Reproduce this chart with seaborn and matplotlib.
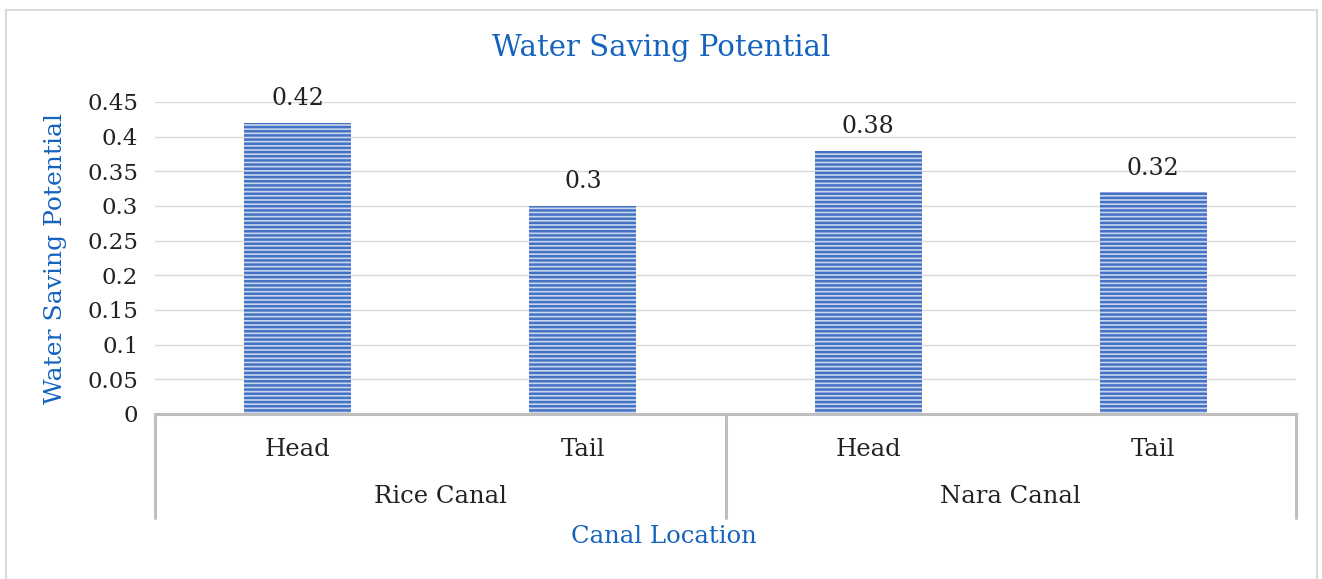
import numpy as np
import pandas as pd
import seaborn as sns
import matplotlib.pyplot as plt
from matplotlib.patches import Rectangle
import matplotlib.transforms as mtransforms

# data
canals = ["Rice Canal", "Rice Canal", "Nara Canal", "Nara Canal"]
locations = ["Head", "Tail", "Head", "Tail"]
potential = [0.42, 0.30, 0.38, 0.32]

df = pd.DataFrame({'canal': canals, 'location': locations, 'potential': potential})
df['slot'] = df['canal'] + " " + df['location']

sns.set_style("white")
plt.rcParams['font.family'] = ['DejaVu Serif']
plt.rcParams['hatch.linewidth'] = 1.8

blue_txt = '#1563BE'
grey_axis = '#BFBFBF'
dark = '#222222'

fig = plt.figure(figsize=(13.22, 5.79), dpi=100)
ax = fig.add_axes([155/1322, 1 - 414/579, 1141/1322, 312/579])

sns.barplot(data=df, x='slot', y='potential', ax=ax, width=0.375,
            color='#C5D5F0', edgecolor='#4472C4', linewidth=0, hatch='----')

for c in ax.containers:
    ax.bar_label(c, labels=[f"{v:g}" for v in c.datavalues], padding=9,
                 fontsize=17, color=dark)

ax.set_ylim(0, 0.45)
ax.set_xlim(-0.5, 3.5)
yt = np.arange(0, 0.451, 0.05)
ax.set_yticks(yt)
ax.set_yticklabels([f"{v:g}" for v in np.round(yt, 2)], fontsize=16.5, color=dark)
ax.yaxis.grid(True, color='#D9D9D9', linewidth=1)
ax.set_axisbelow(True)
ax.tick_params(axis='y', length=0, pad=12)

ax.set_xticks(range(len(locations)))
ax.set_xticklabels(locations, fontsize=17.5, color=dark)
ax.tick_params(axis='x', length=0, pad=17)

for s in ['left', 'right', 'top']:
    ax.spines[s].set_visible(False)
ax.spines['bottom'].set_color(grey_axis)
ax.spines['bottom'].set_linewidth(2.2)

# multi-level category axis
trans = mtransforms.blended_transform_factory(ax.transData, ax.transAxes)
for xv in [-0.5, 1.5, 3.5]:
    ax.plot([xv, xv], [0, -0.333], transform=trans, color=grey_axis,
            linewidth=2.2, clip_on=False)
groups = ["Rice Canal", "Nara Canal"]
for i, g in enumerate(groups):
    ax.text(2 * i + 0.5, -0.266, g, transform=trans, ha='center', va='center',
            fontsize=17.5, color=dark)

ax.set_xlabel("Canal Location", fontsize=17.5, color=blue_txt)
ax.xaxis.set_label_coords((664 - 155) / 1141, -0.394)
ax.xaxis.label.set_va('center')
ax.set_ylabel("Water Saving Potential", fontsize=18, color=blue_txt)
ax.yaxis.set_label_coords(-0.0876, 0.5)
ax.yaxis.label.set_va('center')

fig.text(0.5, 1 - 48/579, "Water Saving Potential", ha='center', va='center',
         fontsize=21, color=blue_txt)

fig.patches.append(Rectangle((6/1322, -0.05), 1311/1322, 1.05 - 10/579,
                             transform=fig.transFigure, fill=False,
                             edgecolor='#D9D9D9', linewidth=1.5))

fig.savefig("out.png", dpi=100)
